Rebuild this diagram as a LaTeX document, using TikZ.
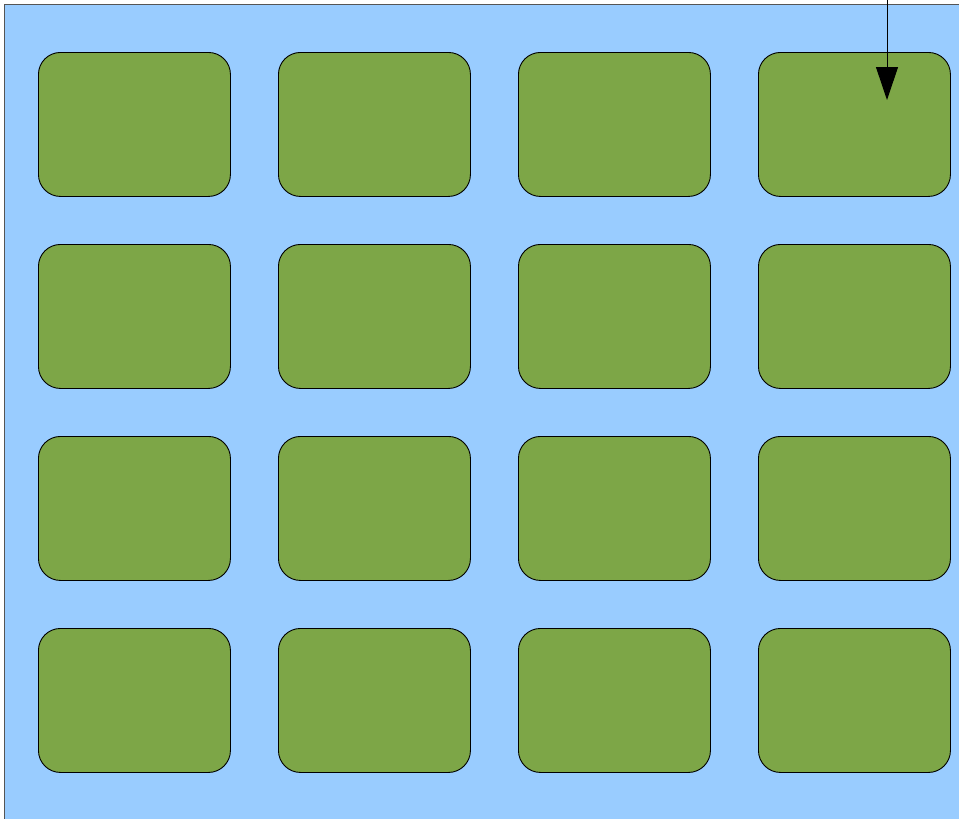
\documentclass[tikz,border=0pt]{standalone}
\usepackage{tikz}
\usetikzlibrary{arrows.meta,positioning}
\definecolor{panel}{HTML}{99CCFF}
\definecolor{cell}{HTML}{7DA647}
\definecolor{frame}{HTML}{555555}

\begin{document}
\begin{tikzpicture}[
  x=1pt, y=-1pt,
  cell/.style={draw=black, line width=0.9pt, rounded corners=22pt, fill=cell, minimum width=192pt, minimum height=144pt, inner sep=0pt},
  arrow/.style={-{Triangle[length=33pt, width=22pt]}, line width=1pt}
]
  \useasboundingbox (0,0) rectangle (959,819);
  \clip (0,0) rectangle (959,819);

  % Background panel
  \draw[frame, fill=panel, line width=1pt] (4.5,4) rectangle (975,835);

  % Grid of cells
  \foreach \r in {1,...,4} {
    \foreach \c in {1,...,4} {
      \node[cell, anchor=north west] (b\r\c) at ({38+240*(\c-1)}, {52+192*(\r-1)}) {};
    }
  }

  % Incoming arrow
  \coordinate (src) at (887,0);
  \coordinate (tip) at (887,100);
  \draw[arrow] (src) -- (tip);
\end{tikzpicture}
\end{document}
